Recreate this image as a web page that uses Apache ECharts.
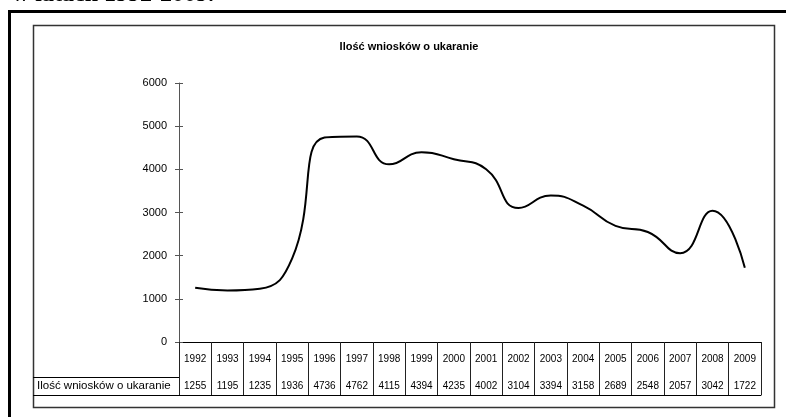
<!DOCTYPE html>
<html>
<head>
<meta charset="utf-8">
<script src="https://cdn.jsdelivr.net/npm/echarts@6/dist/echarts.min.js"></script>
<style>
  html, body { margin: 0; padding: 0; background: #fff; }
  #main { width: 786px; height: 417px; }
</style>
</head>
<body>
<div id="main"></div>
<script>
const years = ['1992', '1993', '1994', '1995', '1996', '1997', '1998', '1999', '2000',
  '2001', '2002', '2003', '2004', '2005', '2006', '2007', '2008', '2009']
const requests = [1255, 1195, 1235, 1936, 4736, 4762, 4115, 4394, 4235,
  4002, 3104, 3394, 3158, 2689, 2548, 2057, 3042, 1722]
const seriesName = 'Ilość wniosków o ukaranie'
const heading = 'w latach 1992-2009.'

const font = '"Liberation Sans", Arial, sans-serif'
const myChart = echarts.init(document.getElementById('main'), null, { renderer: 'canvas' })

const option = {
  animation: false,
  backgroundColor: '#fff',
  title: {
    text: seriesName,
    left: 404,
    top: 36,
    textAlign: 'center',
    textStyle: { fontFamily: font, fontSize: 11, fontWeight: 'bold', color: '#000' }
  },
  grid: { left: 179, right: 25, top: 83, bottom: 75 },
  xAxis: [
    {
      type: 'category',
      data: years,
      position: 'bottom',
      boundaryGap: true,
      axisLine: { lineStyle: { color: '#000', width: 1 } },
      axisTick: { show: true, length: 53, interval: 0, lineStyle: { color: '#222' } },
      axisLabel: { interval: 0, margin: 12, fontFamily: font, fontSize: 10, color: '#000' }
    },
    {
      type: 'category',
      data: requests.map(String),
      position: 'bottom',
      offset: 35,
      boundaryGap: true,
      axisLine: { lineStyle: { color: '#000', width: 1 } },
      axisTick: { show: false },
      axisLabel: { interval: 0, margin: 4, fontFamily: font, fontSize: 10, color: '#000' }
    },
    {
      type: 'category',
      data: years,
      position: 'bottom',
      offset: 53,
      axisLine: { lineStyle: { color: '#000', width: 1 } },
      axisTick: { show: false },
      axisLabel: { show: false }
    }
  ],
  yAxis: [
    {
      type: 'value',
      min: 0,
      max: 6000,
      interval: 1000,
      axisLine: { show: true, lineStyle: { color: '#555', width: 1 } },
      axisTick: { show: true, length: 4, lineStyle: { color: '#555' } },
      axisLabel: { margin: 12, fontFamily: font, fontSize: 11, color: '#000', formatter: v => String(v) },
      splitLine: { show: false }
    },
    {
      // inner half of the crossing tick marks
      type: 'value',
      position: 'left',
      min: 0,
      max: 6000,
      interval: 1000,
      axisLine: { show: false },
      axisTick: { show: true, inside: true, length: 4, lineStyle: { color: '#555' } },
      axisLabel: { show: false },
      splitLine: { show: false }
    }
  ],
  series: [
    {
      name: seriesName,
      type: 'line',
      data: requests,
      smooth: 0.5,
      symbol: 'none',
      lineStyle: { color: '#000', width: 2 }
    }
  ],
  graphic: [
    {
      type: 'text',
      x: 12,
      y: -5,
      style: { text: heading, font: 'bold 24px "Liberation Serif", "Times New Roman", serif', fill: '#000', verticalAlign: 'middle' }
    },
    {
      type: 'rect',
      shape: { x: 9.5, y: 11.5, width: 800, height: 430 },
      style: { fill: null, stroke: '#000', lineWidth: 3 }
    },
    {
      type: 'rect',
      shape: { x: 33.5, y: 25.5, width: 741, height: 382 },
      style: { fill: null, stroke: '#333', lineWidth: 1.5 }
    },
    {
      type: 'line',
      shape: { x1: 33, y1: 377.5, x2: 179, y2: 377.5 },
      style: { stroke: '#000', lineWidth: 1 }
    },
    {
      type: 'line',
      shape: { x1: 33, y1: 395.5, x2: 179, y2: 395.5 },
      style: { stroke: '#000', lineWidth: 1 }
    },
    {
      type: 'text',
      x: 37,
      y: 386,
      style: { text: seriesName, font: '11.5px ' + font, fill: '#000', verticalAlign: 'middle' }
    }
  ]
}

myChart.setOption(option)
</script>
</body>
</html>
